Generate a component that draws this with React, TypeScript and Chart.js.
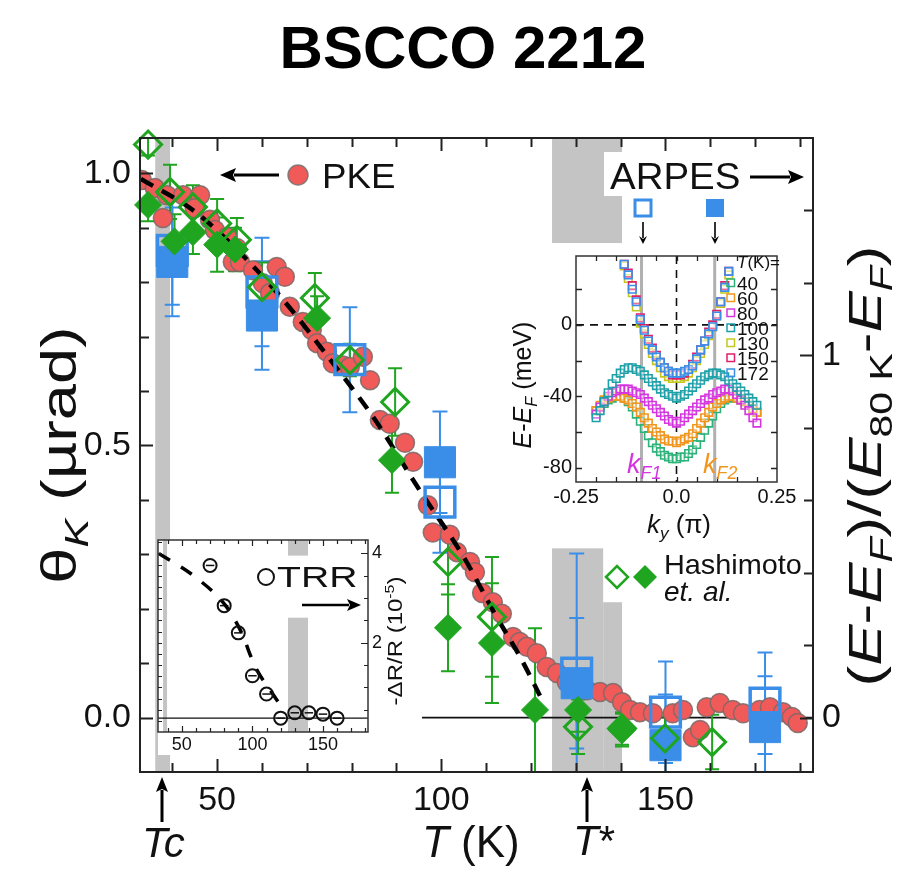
import React, { useEffect, useRef } from "react";
import { Chart, registerables } from "chart.js";
Chart.register(...registerables);

const FONT = "'Liberation Sans', Arial, Helvetica, sans-serif";

// ---------------- main axes ----------------
const T_MIN = 32.8;
const T_MAX = 182.9;
const THETA_MIN = -0.1;
const THETA_MAX = 1.065;
const R_MIN = -0.15;
const R_MAX = 1.6;
const T_TICK_LABELS = [50, 100, 150];
const THETA_TICK_LABELS = [0, 0.5, 1.0];
const R_TICK_LABELS = [0, 1];

// ---------------- PKE (red circles, left axis) ----------------
const PKE_T = [33.2, 36.1, 38.8, 37.9, 42.4, 46.2, 45.0, 48.4, 49.5, 52.2, 54.4, 53.5, 55.1, 58.0, 63.3, 65.1, 60.2, 61.8, 66.2, 69.1, 71.1, 72.3, 74.5, 75.8, 78.1, 79.6, 82.5, 84.1, 86.3, 88.5, 91.9, 93.7, 97.0, 98.1, 101.9, 103.5, 106.4, 107.5, 109.1, 111.5, 113.5, 116.0, 117.5, 119.1, 121.3, 123.5, 125.8, 128.0, 129.4, 132.5, 135.4, 138.3, 140.3, 142.1, 144.3, 147.2, 151.6, 153.9, 156.1, 157.7, 159.2, 162.1, 165.0, 167.3, 171.0, 173.3, 176.2, 178.2, 179.5];
const PKE_V = [0.988, 0.973, 0.96, 0.918, 0.96, 0.96, 0.936, 0.915, 0.896, 0.883, 0.863, 0.837, 0.837, 0.822, 0.828, 0.81, 0.798, 0.78, 0.755, 0.727, 0.712, 0.688, 0.672, 0.651, 0.647, 0.644, 0.663, 0.62, 0.547, 0.54, 0.505, 0.47, 0.39, 0.34, 0.336, 0.304, 0.286, 0.267, 0.229, 0.212, 0.191, 0.148, 0.139, 0.13, 0.118, 0.093, 0.082, 0.065, 0.056, 0.05, 0.047, 0.045, 0.028, 0.014, 0.01, 0.008, 0.008, 0.014, -0.036, -0.023, 0.019, 0.027, 0.014, 0.008, 0.014, 0.019, 0.01, 0.001, -0.01];

// dashed guide
const DASH_T = [33, 45, 55, 65, 75, 85, 95, 105, 112, 118, 122];
const DASH_V = [0.99, 0.93, 0.855, 0.765, 0.66, 0.55, 0.42, 0.295, 0.19, 0.105, 0.04];

// Hashimoto et al. (green diamonds, left axis)
const HO_T = [34.6, 39.5, 44.6, 50.0, 54.4, 60.0, 71.8, 79.6, 89.7, 101.5, 111.3, 130.5, 140.3, 149.9, 160.4];
const HO_V = [1.053, 0.966, 0.938, 0.908, 0.878, 0.791, 0.771, 0.657, 0.58, 0.286, 0.185, -0.017, -0.02, -0.038, -0.045];
const HO_ERR = [0.02, 0.05, 0.04, 0.045, 0.04, 0.045, 0.046, 0.03, 0.062, 0.06, 0.11, 0.05, 0.03, 0.04, 0.05];
const HF_T = [34.6, 40.5, 44.6, 50.0, 54.0, 72.3, 89.0, 101.5, 111.3, 120.9, 130.5, 140.3];
const HF_V = [0.942, 0.875, 0.892, 0.869, 0.86, 0.734, 0.473, 0.165, 0.137, 0.014, 0.014, -0.023];
const HF_ERR = [0.03, 0.05, 0.04, 0.05, 0.04, 0.04, 0.06, 0.08, 0.11, 0.15, 0.04, 0.03];

// ARPES (blue squares, right axis)
const AF_T = [40, 60, 99.7, 130.2, 150, 172.2];
const AF_V = [1.258, 1.11, 0.705, 0.095, -0.076, -0.026];
const AF_ERR = [0.15, 0.15, 0.14, 0.18, 0.14, 0.14];
const AO_T = [40, 60, 79.6, 99.7, 130.2, 150, 172.2];
const AO_V = [1.29, 1.175, 0.988, 0.595, 0.123, 0.015, 0.04];
const AO_ERR = [0.15, 0.15, 0.145, 0.14, 0.33, 0.14, 0.14];

// grey bands (T range, theta range)
const BAND_T0 = [36.2, 124.7, 124.7, 136.1];
const BAND_T1 = [39.5, 140.3, 136.1, 140.3];
const BAND_LO = [-0.1, 0.872, -0.1, -0.1];
const BAND_HI = [1.065, 1.065, 0.311, 0.212];
const ZERO_T = [95.7, 182.9];

// ---------------- TRR inset ----------------
const TRR_X_MIN = 33.1;
const TRR_X_MAX = 181.9;
const TRR_Y_MIN = 0;
const TRR_Y_MAX = 4.3;
const TRR_X_LABELS = [50, 100, 150];
const TRR_Y_LABELS = [2, 4];
const TRR_T = [70, 80, 90, 100, 110, 120, 130, 140, 150, 160];
const TRR_V = [3.73, 2.83, 2.22, 1.26, 0.85, 0.31, 0.43, 0.43, 0.4, 0.31];
const TRR_TERR = [3, 3, 3, 3, 3, 3, 3, 3, 3, 3];
const TRR_DASH_T = [33.7, 60, 81, 91.6, 102.3, 113, 118.7];
const TRR_DASH_V = [4.0, 3.46, 2.83, 2.27, 1.44, 0.92, 0.65];
const TRR_BASE = 0.31;
const TRR_BAND_T0 = [36.7, 125.2, 125.2];
const TRR_BAND_T1 = [39.5, 139.4, 139.4];
const TRR_BAND_LO = [0, 3.95, 0];
const TRR_BAND_HI = [4.3, 4.3, 2.56];

// ---------------- ARPES inset ----------------
const K_MIN = -0.25;
const K_MAX = 0.25;
const E_MIN = -88;
const E_MAX = 38.6;
const K_LABELS = [-0.25, 0, 0.25];
const E_LABELS = [-80, -40, 0];
const KF = [-0.087, 0.095];
const KY_SC = [-0.2, -0.19, -0.18, -0.17, -0.16, -0.15, -0.14, -0.13, -0.12, -0.11, -0.1, -0.09, -0.08, -0.07, -0.06, -0.05, -0.04, -0.03, -0.02, -0.01, 0, 0.01, 0.02, 0.03, 0.04, 0.05, 0.06, 0.07, 0.08, 0.09, 0.1, 0.11, 0.12, 0.13, 0.14, 0.15, 0.16, 0.17, 0.18, 0.19, 0.2];
const E40 = [-48, -46, -44, -42, -41, -40, -40, -41, -43, -46, -50, -54, -58, -62, -66, -69, -71, -73, -74, -75, -75, -74, -74, -72, -70, -67, -63, -59, -55, -51, -47, -44, -42, -41, -40, -41, -42, -43, -45, -47, -49];
const E60 = [-48, -45, -42, -41, -40, -40, -40, -41, -42, -44, -46, -49, -52, -55, -58, -60, -62, -64, -65, -65, -66, -65, -64, -63, -61, -58, -55, -52, -49, -46, -44, -42, -41, -40, -40, -41, -42, -43, -45, -47, -49];
const E80 = [-50, -46, -43, -40, -38, -37, -36, -36, -36, -37, -38, -39, -41, -43, -45, -47, -49, -51, -53, -54, -55, -54, -52, -50, -48, -46, -44, -42, -41, -39, -38, -37, -36, -36, -37, -39, -42, -45, -48, -52, -55];
const E100 = [-52, -48, -43, -38, -33, -30, -27, -25, -24, -24, -25, -26, -28, -30, -32, -34, -36, -38, -39, -40, -41, -40, -39, -37, -35, -33, -31, -29, -28, -27, -27, -28, -29, -31, -33, -35, -37, -39, -41, -43, -45];
const KY_N = [-0.13, -0.12, -0.11, -0.1, -0.09, -0.08, -0.07, -0.06, -0.05, -0.04, -0.03, -0.02, -0.01, 0, 0.01, 0.02, 0.03, 0.04, 0.05, 0.06, 0.07, 0.08, 0.09, 0.1, 0.11, 0.12, 0.13];
const E130 = [33, 26, 18, 10, 1, -5, -11, -16, -20, -24, -27, -29, -30, -30, -30, -29, -27, -24, -20, -16, -11, -6, -1, 5, 12, 20, 28];
const E150 = [34, 29, 22, 14, 4, -2, -8, -13, -17, -21, -24, -26, -28, -28, -28, -27, -25, -22, -18, -14, -9, -4, 0, 6, 13, 22, 30];
const E172 = [34, 28, 20, 13, 3, -3, -9, -14, -18, -21, -24, -26, -27, -27, -27, -26, -25, -23, -19, -14, -9, -5, -1, 5, 13, 21, 30];
const ARPES_TEMPS = ["40", "60", "80", "100", "130", "150", "172"];
const ARPES_COLORS = ["#2db37a", "#f0961e", "#d535e0", "#1ea0a8", "#c4c81e", "#e0206a", "#3a8ee8"];

const RED = "#f05b5a";
const GREEN = "#1fa51f";
const BLUE = "#3a8ee8";
const GREY = "#c4c4c4";

// ---------------- helpers ----------------
function pts(xs: number[], ys: number[]) {
  return xs.map((x, i) => ({ x, y: ys[i] }));
}

function drawRich(ctx: any, segs: any[], x: number, y: number, size: number, o: any = {}) {
  const fam = o.family || FONT;
  const weight = o.bold ? "bold " : "";
  ctx.save();
  ctx.translate(x, y);
  if (o.rot) ctx.rotate(o.rot);
  if (o.sx) ctx.scale(o.sx, 1);
  const fonts = segs.map((s) => {
    const sz = s.sub || s.sup ? size * 0.66 : size;
    return `${s.i ? "italic " : ""}${weight}${sz}px ${fam}`;
  });
  let total = 0;
  const ws = segs.map((s, k) => {
    ctx.font = fonts[k];
    const w = ctx.measureText(s.t).width;
    total += w;
    return w;
  });
  let cx = o.align === "center" ? -total / 2 : o.align === "right" ? -total : 0;
  const dy0 = o.middle ? size * 0.36 : 0;
  ctx.textBaseline = "alphabetic";
  ctx.textAlign = "left";
  segs.forEach((s, k) => {
    ctx.font = fonts[k];
    ctx.fillStyle = s.c || o.color || "#111";
    const dy = s.sub ? size * 0.24 : s.sup ? -size * 0.4 : 0;
    ctx.fillText(s.t, cx, dy0 + dy);
    cx += ws[k];
  });
  ctx.restore();
}

function arrow(ctx: any, x1: number, y1: number, x2: number, y2: number, head = 13, hw = 6, lw = 2.5, color = "#000") {
  const ang = Math.atan2(y2 - y1, x2 - x1);
  const bx = x2 - head * Math.cos(ang);
  const by = y2 - head * Math.sin(ang);
  ctx.save();
  ctx.strokeStyle = color;
  ctx.fillStyle = color;
  ctx.lineWidth = lw;
  ctx.beginPath();
  ctx.moveTo(x1, y1);
  ctx.lineTo(bx + 2 * Math.cos(ang), by + 2 * Math.sin(ang));
  ctx.stroke();
  ctx.beginPath();
  ctx.moveTo(x2, y2);
  ctx.lineTo(bx - hw * Math.sin(ang), by + hw * Math.cos(ang));
  ctx.lineTo(bx + 3 * Math.cos(ang), by + 3 * Math.sin(ang));
  ctx.lineTo(bx + hw * Math.sin(ang), by - hw * Math.cos(ang));
  ctx.closePath();
  ctx.fill();
  ctx.restore();
}

function errBars(ctx: any, xs: any, ys: any, T: number[], V: number[], E: number[], color: string, cap: number, lw = 2) {
  ctx.save();
  ctx.strokeStyle = color;
  ctx.lineWidth = lw;
  T.forEach((t, i) => {
    const px = xs.getPixelForValue(t);
    const y1 = ys.getPixelForValue(V[i] + E[i]);
    const y2 = ys.getPixelForValue(V[i] - E[i]);
    ctx.beginPath();
    ctx.moveTo(px, y1);
    ctx.lineTo(px, y2);
    ctx.moveTo(px - cap / 2, y1);
    ctx.lineTo(px + cap / 2, y1);
    ctx.moveTo(px - cap / 2, y2);
    ctx.lineTo(px + cap / 2, y2);
    ctx.stroke();
  });
  ctx.restore();
}

function frame(ctx: any, a: any, lw = 2, color = "#222") {
  ctx.save();
  ctx.strokeStyle = color;
  ctx.lineWidth = lw;
  ctx.strokeRect(a.left, a.top, a.right - a.left, a.bottom - a.top);
  ctx.restore();
}

function hTicks(ctx: any, scale: any, a: any, vals: number[], isMajor: (v: number) => boolean, maj: number, min: number, top: boolean, bottom: boolean, lw = 2) {
  ctx.save();
  ctx.strokeStyle = "#222";
  ctx.lineWidth = lw;
  ctx.beginPath();
  vals.forEach((v) => {
    const p = Math.round(scale.getPixelForValue(v)) + 0.5;
    const L = isMajor(v) ? maj : min;
    if (bottom) {
      ctx.moveTo(p, a.bottom);
      ctx.lineTo(p, a.bottom - L);
    }
    if (top) {
      ctx.moveTo(p, a.top);
      ctx.lineTo(p, a.top + L);
    }
  });
  ctx.stroke();
  ctx.restore();
}

function vTicks(ctx: any, scale: any, a: any, vals: number[], isMajor: (v: number) => boolean, maj: number, min: number, left: boolean, lw = 2) {
  ctx.save();
  ctx.strokeStyle = "#222";
  ctx.lineWidth = lw;
  ctx.beginPath();
  vals.forEach((v) => {
    const p = Math.round(scale.getPixelForValue(v)) + 0.5;
    const L = isMajor(v) ? maj : min;
    if (left) {
      ctx.moveTo(a.left, p);
      ctx.lineTo(a.left + L, p);
    } else {
      ctx.moveTo(a.right, p);
      ctx.lineTo(a.right - L, p);
    }
  });
  ctx.stroke();
  ctx.restore();
}

function range(a: number, b: number, s: number) {
  const out: number[] = [];
  for (let v = a; v <= b + 1e-9; v += s) out.push(Math.round(v * 1000) / 1000);
  return out;
}

const near = (list: number[]) => (v: number) => list.some((m) => Math.abs(m - v) < 1e-6);

// ---------------- main chart plugin ----------------
const mainDecor = {
  id: "mainDecor",
  beforeDatasetsDraw(chart: any) {
    const { ctx, chartArea: a } = chart;
    const { x, y, y2 } = chart.scales;
    ctx.save();
    ctx.beginPath();
    ctx.rect(a.left, a.top, a.right - a.left, a.bottom - a.top);
    ctx.clip();
    ctx.fillStyle = GREY;
    BAND_T0.forEach((t0, i) => {
      const x0 = x.getPixelForValue(t0);
      const x1 = x.getPixelForValue(BAND_T1[i]);
      const yt = y.getPixelForValue(BAND_HI[i]);
      const yb = y.getPixelForValue(BAND_LO[i]);
      ctx.fillRect(x0, yt, x1 - x0, yb - yt);
    });
    ctx.strokeStyle = "#111";
    ctx.lineWidth = 1.6;
    ctx.beginPath();
    ctx.moveTo(x.getPixelForValue(ZERO_T[0]), y.getPixelForValue(0));
    ctx.lineTo(x.getPixelForValue(ZERO_T[1]), y.getPixelForValue(0));
    ctx.stroke();
    errBars(ctx, x, y2, AF_T, AF_V, AF_ERR, BLUE, 15);
    errBars(ctx, x, y2, AO_T, AO_V, AO_ERR, BLUE, 15);
    errBars(ctx, x, y, HF_T, HF_V, HF_ERR, GREEN, 14);
    errBars(ctx, x, y, HO_T, HO_V, HO_ERR, GREEN, 14);
    ctx.restore();
  },
  afterDatasetsDraw(chart: any) {
    const { ctx, chartArea: a } = chart;
    const { x, y, y2 } = chart.scales;
    frame(ctx, a, 2);
    hTicks(ctx, x, a, range(40, 180, 10), near(T_TICK_LABELS), 13, 9, true, true);
    vTicks(ctx, y, a, range(0, 1, 0.1), near(THETA_TICK_LABELS), 13, 9, true);
    vTicks(ctx, y2, a, range(0, 1.4, 0.2), near(R_TICK_LABELS), 13, 9, false);
  },
  afterDraw(chart: any) {
    const { ctx } = chart;
    // title
    drawRich(ctx, [{ t: "BSCCO 2212" }], 463, 68, 60, { bold: true, align: "center", color: "#000" });
    // left axis title
    drawRich(ctx, [{ t: "θ" }, { t: "K", i: true, sub: true }, { t: " (µrad)" }], 58, 455, 50, { rot: -Math.PI / 2, align: "center", middle: true, sx: 1.3 });
    // right axis title
    drawRich(
      ctx,
      [
        { t: "(" },
        { t: "E", i: true },
        { t: "-" },
        { t: "E", i: true },
        { t: "F", i: true, sub: true },
        { t: ")/(" },
        { t: "E", i: true },
        { t: "80 K", sub: true },
        { t: "-" },
        { t: "E", i: true },
        { t: "F", i: true, sub: true },
        { t: ")" },
      ],
      864,
      466,
      47,
      { rot: -Math.PI / 2, align: "center", middle: true, sx: 1.32 }
    );
    // bottom labels
    drawRich(ctx, [{ t: "T", i: true }, { t: " (K)" }], 422, 857, 44, {});
    drawRich(ctx, [{ t: "Tc", i: true }], 142, 857, 42, {});
    drawRich(ctx, [{ t: "T", i: true }, { t: "*" }], 573, 855, 42, {});
    arrow(ctx, 162, 822, 162, 777, 15, 6, 3);
    arrow(ctx, 587, 822, 587, 777, 15, 6, 3);
    // PKE legend
    arrow(ctx, 279, 175, 220, 175, 16, 7, 3);
    ctx.save();
    ctx.fillStyle = RED;
    ctx.strokeStyle = "rgba(120,110,110,0.85)";
    ctx.lineWidth = 1.5;
    ctx.beginPath();
    ctx.arc(298, 175, 10, 0, Math.PI * 2);
    ctx.fill();
    ctx.stroke();
    ctx.restore();
    drawRich(ctx, [{ t: "PKE" }], 322, 188, 35, { sx: 1.05 });
    // ARPES legend
    ctx.save();
    ctx.fillStyle = "#fff";
    ctx.fillRect(604, 152, 144, 44);
    ctx.restore();
    drawRich(ctx, [{ t: "ARPES" }], 610, 189, 37, { sx: 1.04 });
    arrow(ctx, 750, 177, 804, 177, 16, 7, 3);
    ctx.save();
    ctx.strokeStyle = BLUE;
    ctx.lineWidth = 3;
    ctx.strokeRect(635, 200, 16, 16);
    ctx.fillStyle = BLUE;
    ctx.fillRect(706, 199, 18, 18);
    ctx.restore();
    arrow(ctx, 643, 222, 643, 244, 8, 4, 1.6);
    arrow(ctx, 715, 222, 715, 244, 8, 4, 1.6);
    // Hashimoto legend
    ctx.save();
    ctx.strokeStyle = GREEN;
    ctx.lineWidth = 2.5;
    ctx.beginPath();
    ctx.moveTo(606, 577);
    ctx.lineTo(617, 566);
    ctx.lineTo(628, 577);
    ctx.lineTo(617, 588);
    ctx.closePath();
    ctx.stroke();
    ctx.fillStyle = GREEN;
    ctx.beginPath();
    ctx.moveTo(633, 577);
    ctx.lineTo(645, 565);
    ctx.lineTo(657, 577);
    ctx.lineTo(645, 589);
    ctx.closePath();
    ctx.fill();
    ctx.restore();
    drawRich(ctx, [{ t: "Hashimoto" }], 664, 574, 28, { sx: 1.03 });
    drawRich(ctx, [{ t: "et. al.", i: true }], 664, 601, 28, {});
  },
};

// ---------------- TRR plugin ----------------
const TRR_LEFT = 130;
const TRR_TOP = 525;
const trrDecor = {
  id: "trrDecor",
  beforeDraw(chart: any) {
    const { ctx, chartArea: a } = chart;
    ctx.save();
    ctx.fillStyle = "#fff";
    ctx.fillRect(a.left, a.top, a.right - a.left, a.bottom - a.top + 23);
    ctx.restore();
  },
  beforeDatasetsDraw(chart: any) {
    const { ctx, chartArea: a } = chart;
    const { x, y } = chart.scales;
    ctx.save();
    ctx.beginPath();
    ctx.rect(a.left, a.top, a.right - a.left, a.bottom - a.top);
    ctx.clip();
    ctx.fillStyle = GREY;
    TRR_BAND_T0.forEach((t0, i) => {
      const x0 = x.getPixelForValue(t0);
      const x1 = x.getPixelForValue(TRR_BAND_T1[i]);
      const yt = y.getPixelForValue(TRR_BAND_HI[i]);
      const yb = y.getPixelForValue(TRR_BAND_LO[i]);
      ctx.fillRect(x0, yt, x1 - x0, yb - yt);
    });
    ctx.strokeStyle = "#111";
    ctx.lineWidth = 1.3;
    ctx.beginPath();
    ctx.moveTo(a.left, y.getPixelForValue(TRR_BASE));
    ctx.lineTo(a.right, y.getPixelForValue(TRR_BASE));
    ctx.stroke();
    ctx.lineWidth = 1.5;
    TRR_T.forEach((t, i) => {
      const py = y.getPixelForValue(TRR_V[i]);
      ctx.beginPath();
      ctx.moveTo(x.getPixelForValue(t - TRR_TERR[i]), py);
      ctx.lineTo(x.getPixelForValue(t + TRR_TERR[i]), py);
      ctx.stroke();
    });
    ctx.restore();
  },
  afterDatasetsDraw(chart: any) {
    const { ctx, chartArea: a } = chart;
    const { x, y } = chart.scales;
    frame(ctx, a, 1.5, "#333");
    hTicks(ctx, x, a, range(40, 180, 10), near(TRR_X_LABELS), 6, 4, true, true, 1.2);
    vTicks(ctx, y, a, range(0.25, 4.25, 0.25), () => false, 4, 4, true, 1.2);
    vTicks(ctx, y, a, range(0.5, 4, 0.5), near(TRR_Y_LABELS), 7, 4, false, 1.2);
  },
  afterDraw(chart: any) {
    const { ctx } = chart;
    ctx.save();
    ctx.translate(-TRR_LEFT, -TRR_TOP);
    ctx.strokeStyle = "#111";
    ctx.lineWidth = 2;
    ctx.beginPath();
    ctx.arc(266, 577, 8, 0, Math.PI * 2);
    ctx.stroke();
    drawRich(ctx, [{ t: "TRR" }], 277, 587, 29, { sx: 1.35 });
    arrow(ctx, 302, 605, 361, 605, 14, 6, 2.5);
    drawRich(ctx, [{ t: "-ΔR/R (10" }, { t: "-5", sup: true }, { t: ")" }], 395, 641, 20, { rot: -Math.PI / 2, align: "center", middle: true, sx: 1.2 });
    ctx.restore();
  },
};

// ---------------- ARPES plugin ----------------
const AR_LEFT = 490;
const AR_TOP = 240;
const arpesDecor = {
  id: "arpesDecor",
  beforeDraw(chart: any) {
    const { ctx, chartArea: a } = chart;
    ctx.save();
    ctx.fillStyle = "#fff";
    ctx.fillRect(a.left, a.top, a.right - a.left, a.bottom - a.top);
    ctx.restore();
  },
  beforeDatasetsDraw(chart: any) {
    const { ctx, chartArea: a } = chart;
    const { x, y } = chart.scales;
    ctx.save();
    ctx.strokeStyle = "rgba(150,150,150,0.75)";
    ctx.lineWidth = 3;
    ctx.beginPath();
    KF.forEach((k) => {
      const px = x.getPixelForValue(k);
      ctx.moveTo(px, a.top);
      ctx.lineTo(px, a.bottom);
    });
    ctx.stroke();
    ctx.strokeStyle = "#111";
    ctx.lineWidth = 1.6;
    ctx.setLineDash([8, 6]);
    ctx.beginPath();
    ctx.moveTo(x.getPixelForValue(0), a.top);
    ctx.lineTo(x.getPixelForValue(0), a.bottom);
    ctx.moveTo(a.left, y.getPixelForValue(0));
    ctx.lineTo(a.right, y.getPixelForValue(0));
    ctx.stroke();
    ctx.restore();
  },
  afterDatasetsDraw(chart: any) {
    const { ctx, chartArea: a } = chart;
    const { x, y } = chart.scales;
    frame(ctx, a, 1.5, "#333");
    hTicks(ctx, x, a, range(-0.2, 0.2, 0.05), () => false, 5, 5, true, true, 1.3);
    vTicks(ctx, y, a, range(-80, 20, 20), () => false, 6, 6, true, 1.3);
    vTicks(ctx, y, a, range(-80, 20, 20), () => false, 6, 6, false, 1.3);
  },
  afterDraw(chart: any) {
    const { ctx } = chart;
    ctx.save();
    ctx.translate(-AR_LEFT, -AR_TOP);
    drawRich(ctx, [{ t: "E", i: true }, { t: "-" }, { t: "E", i: true }, { t: "F", i: true, sub: true }, { t: " (meV)" }], 522, 385, 25, { rot: -Math.PI / 2, align: "center", middle: true });
    drawRich(ctx, [{ t: "k", i: true }, { t: "y", i: true, sub: true }, { t: " (π)" }], 679, 533, 26, { align: "center" });
    drawRich(ctx, [{ t: "k", i: true, c: "#d535e0" }, { t: "F1", i: true, sub: true, c: "#d535e0" }], 627, 473, 27, {});
    drawRich(ctx, [{ t: "k", i: true, c: "#f0961e" }, { t: "F2", i: true, sub: true, c: "#f0961e" }], 703, 473, 27, {});
    drawRich(ctx, [{ t: "T", i: true }, { t: "(K)=" }], 737, 268, 17, {});
    ARPES_TEMPS.slice(0, 7).forEach((lab, i) => {
      const cy = 283 + i * 15;
      ctx.strokeStyle = ARPES_COLORS[i];
      ctx.lineWidth = 1.5;
      ctx.strokeRect(727, cy - 4, 7.5, 7.5);
      drawRich(ctx, [{ t: lab }], 737, cy + 7, 19, {});
    });
    ctx.restore();
  },
};

function baseOpts() {
  return {
    responsive: false,
    animation: false as const,
    devicePixelRatio: 1,
    events: [],
    plugins: { legend: { display: false }, tooltip: { enabled: false }, title: { display: false } },
  };
}

function axisTicks(list: number[], fmt: (v: number) => string, size: number, padding: number) {
  return {
    ticks: {
      font: { family: FONT, size },
      color: "#111",
      padding,
      maxRotation: 0,
      autoSkip: false,
      callback: (v: any) => fmt(Number(v)),
    },
    afterBuildTicks: (s: any) => {
      s.ticks = list.map((v) => ({ value: v }));
    },
    grid: { display: false, drawTicks: false },
    border: { display: false },
  };
}

export default function App() {
  const mainRef = useRef<HTMLCanvasElement>(null);
  const trrRef = useRef<HTMLCanvasElement>(null);
  const arRef = useRef<HTMLCanvasElement>(null);

  useEffect(() => {
    const main = new Chart(mainRef.current as HTMLCanvasElement, {
      type: "scatter",
      data: {
        datasets: [
          {
            type: "scatter",
            label: "PKE",
            data: pts(PKE_T, PKE_V),
            yAxisID: "y",
            pointStyle: "circle",
            pointRadius: 9.5,
            pointBackgroundColor: RED,
            pointBorderColor: "rgba(120,105,105,0.85)",
            pointBorderWidth: 1.5,
            order: 6,
          },
          {
            type: "line",
            label: "guide",
            data: pts(DASH_T, DASH_V),
            yAxisID: "y",
            borderColor: "#000",
            borderWidth: 4.5,
            borderDash: [14, 10],
            pointRadius: 0,
            cubicInterpolationMode: "monotone",
            fill: false,
            order: 5,
          },
          {
            type: "scatter",
            label: "ARPES filled",
            data: pts(AF_T, AF_V),
            yAxisID: "y2",
            pointStyle: "rect",
            pointRadius: 22,
            pointBackgroundColor: BLUE,
            pointBorderColor: BLUE,
            pointBorderWidth: 1,
            clip: false,
            order: 4,
          },
          {
            type: "scatter",
            label: "ARPES open",
            data: pts(AO_T, AO_V),
            yAxisID: "y2",
            pointStyle: "rect",
            pointRadius: 21,
            pointBackgroundColor: "rgba(0,0,0,0)",
            pointBorderColor: BLUE,
            pointBorderWidth: 3.5,
            clip: false,
            order: 3,
          },
          {
            type: "scatter",
            label: "Hashimoto filled",
            data: pts(HF_T, HF_V),
            yAxisID: "y",
            pointStyle: "rectRot",
            pointRadius: 13.5,
            pointBackgroundColor: GREEN,
            pointBorderColor: GREEN,
            pointBorderWidth: 1,
            clip: false,
            order: 2,
          },
          {
            type: "scatter",
            label: "Hashimoto open",
            data: pts(HO_T, HO_V),
            yAxisID: "y",
            pointStyle: "rectRot",
            pointRadius: 13.5,
            pointBackgroundColor: "rgba(0,0,0,0)",
            pointBorderColor: GREEN,
            pointBorderWidth: 3,
            clip: false,
            order: 1,
          },
        ] as any,
      },
      options: {
        ...baseOpts(),
        layout: { padding: { top: 138, left: 0, right: 0, bottom: 0 } },
        scales: {
          x: {
            type: "linear",
            position: "bottom",
            min: T_MIN,
            max: T_MAX,
            ...axisTicks(T_TICK_LABELS, (v) => String(v), 34, 8),
            afterFit: (s: any) => {
              s.height = 100;
            },
          },
          y: {
            type: "linear",
            position: "left",
            min: THETA_MIN,
            max: THETA_MAX,
            ...axisTicks(THETA_TICK_LABELS, (v) => v.toFixed(1), 34, 9),
            afterFit: (s: any) => {
              s.width = 140;
            },
          },
          y2: {
            type: "linear",
            position: "right",
            min: R_MIN,
            max: R_MAX,
            ...axisTicks(R_TICK_LABELS, (v) => String(v), 34, 9),
            afterFit: (s: any) => {
              s.width = 98;
            },
          },
        },
      } as any,
      plugins: [mainDecor],
    });

    const trr = new Chart(trrRef.current as HTMLCanvasElement, {
      type: "scatter",
      data: {
        datasets: [
          {
            type: "line",
            label: "TRR guide",
            data: pts(TRR_DASH_T, TRR_DASH_V),
            borderColor: "#000",
            borderWidth: 3.5,
            borderDash: [13, 13],
            pointRadius: 0,
            cubicInterpolationMode: "monotone",
            fill: false,
            order: 2,
          },
          {
            type: "scatter",
            label: "TRR",
            data: pts(TRR_T, TRR_V),
            pointStyle: "circle",
            pointRadius: 6.5,
            pointBackgroundColor: "rgba(0,0,0,0)",
            pointBorderColor: "#111",
            pointBorderWidth: 2,
            order: 1,
          },
        ] as any,
      },
      options: {
        ...baseOpts(),
        layout: { padding: { top: 15, left: 28, right: 0, bottom: 0 } },
        scales: {
          x: {
            type: "linear",
            position: "bottom",
            min: TRR_X_MIN,
            max: TRR_X_MAX,
            ...axisTicks(TRR_X_LABELS, (v) => String(v), 18, 2),
            afterFit: (s: any) => {
              s.height = 33;
            },
          },
          y: {
            type: "linear",
            position: "right",
            min: TRR_Y_MIN,
            max: TRR_Y_MAX,
            ...axisTicks(TRR_Y_LABELS, (v) => String(v), 18, 4),
            afterFit: (s: any) => {
              s.width = 62;
            },
          },
        },
      } as any,
      plugins: [trrDecor],
    });

    const series = [
      [KY_SC, E40],
      [KY_SC, E60],
      [KY_SC, E80],
      [KY_SC, E100],
      [KY_N, E130],
      [KY_N, E150],
      [KY_N, E172],
    ];
    const ar = new Chart(arRef.current as HTMLCanvasElement, {
      type: "scatter",
      data: {
        datasets: series.map(([k, e], i) => ({
          type: "scatter",
          label: ARPES_TEMPS[i] + " K",
          data: pts(k as number[], e as number[]),
          pointStyle: "rect",
          pointRadius: 5.3,
          pointBackgroundColor: "rgba(255,255,255,0.35)",
          pointBorderColor: ARPES_COLORS[i],
          pointBorderWidth: 1.6,
          order: 10 - i,
        })) as any,
      },
      options: {
        ...baseOpts(),
        layout: { padding: { top: 8, left: 0, right: 38, bottom: 0 } },
        scales: {
          x: {
            type: "linear",
            position: "bottom",
            min: K_MIN,
            max: K_MAX,
            ...axisTicks(K_LABELS, (v) => (v === 0 ? "0.0" : v.toFixed(2)), 20, 3),
            afterFit: (s: any) => {
              s.height = 63;
            },
          },
          y: {
            type: "linear",
            position: "left",
            min: E_MIN,
            max: E_MAX,
            ...axisTicks(E_LABELS, (v) => String(v), 20, 4),
            afterFit: (s: any) => {
              s.width = 86;
            },
          },
        },
      } as any,
      plugins: [arpesDecor],
    });

    return () => {
      main.destroy();
      trr.destroy();
      ar.destroy();
    };
  }, []);

  return (
    <div style={{ position: "absolute", left: 0, top: 0, width: 911, height: 872, background: "#fff", overflow: "hidden" }}>
      <canvas ref={mainRef} width={911} height={872} style={{ position: "absolute", left: 0, top: 0 }} />
      <canvas ref={trrRef} width={300} height={240} style={{ position: "absolute", left: TRR_LEFT, top: TRR_TOP }} />
      <canvas ref={arRef} width={325} height={305} style={{ position: "absolute", left: AR_LEFT, top: AR_TOP }} />
    </div>
  );
}
